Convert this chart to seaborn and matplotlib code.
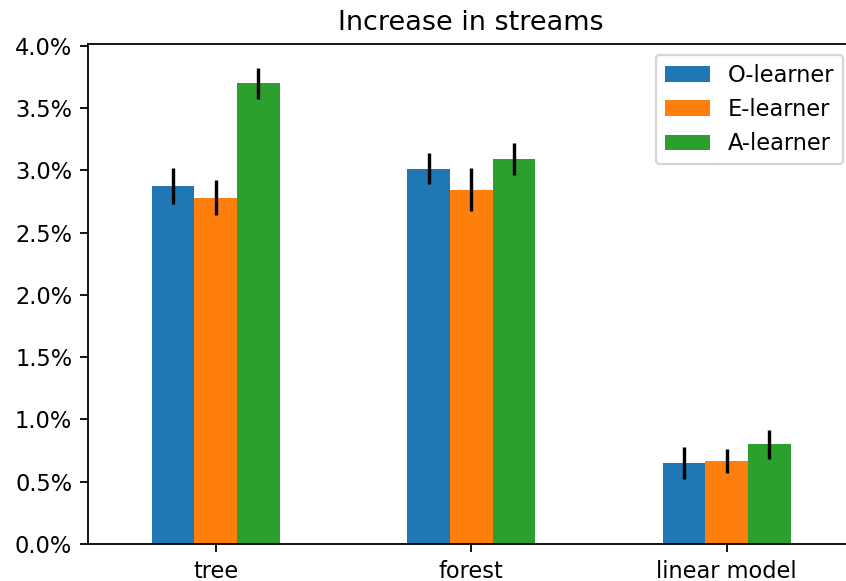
import pandas as pd
import matplotlib.pyplot as plt
import matplotlib.ticker as mticker
import seaborn as sns

# --- data (fractions, shown as percent) ---
models = ["tree", "forest", "linear model"]
learners = ["O-learner", "E-learner", "A-learner"]

o_mean = [0.02875, 0.03014, 0.00647]
e_mean = [0.02780, 0.02845, 0.00666]
a_mean = [0.03700, 0.03090, 0.00800]

o_err = [0.00143, 0.00123, 0.00128]
e_err = [0.00140, 0.00175, 0.00094]
a_err = [0.00124, 0.00131, 0.00116]

COLORS = ["#1f77b4", "#ff7f0e", "#2ca02c"]

means = {"O-learner": o_mean, "E-learner": e_mean, "A-learner": a_mean}
errs = {"O-learner": o_err, "E-learner": e_err, "A-learner": a_err}

rows = []
for lrn in learners:
    for i, m in enumerate(models):
        rows.append({"model": m, "learner": lrn, "value": means[lrn][i], "err": errs[lrn][i]})
df = pd.DataFrame(rows)

DPI = 162
fig = plt.figure(figsize=(846 / DPI, 581 / DPI), dpi=DPI)
# axes runs a little past the right edge, like the cropped original
ax = fig.add_axes([88 / 846, 1 - 544 / 581, 766.5 / 846, (544 - 43.5) / 581])

sns.barplot(
    data=df,
    x="model",
    y="value",
    hue="learner",
    order=models,
    hue_order=learners,
    palette=COLORS,
    width=0.5,
    saturation=1,
    errorbar=None,
    ax=ax,
)

# error bars at the centre of each bar
for lrn, cont in zip(learners, ax.containers):
    xs = [p.get_x() + p.get_width() / 2 for p in cont.patches]
    ys = [p.get_height() for p in cont.patches]
    ax.errorbar(xs, ys, yerr=errs[lrn], fmt="none", ecolor="black", elinewidth=1.5, capsize=0, zorder=5)

ax.yaxis.set_major_formatter(mticker.PercentFormatter(xmax=1.0, decimals=1))
ax.set_ylim(0, 0.04018)
ax.set_xlim(-0.5, 2.5)
ax.set_xlabel("")
ax.set_ylabel("")
ax.set_title("Increase in streams")
ax.tick_params(axis="x", rotation=0)
ax.legend(loc="upper right", title=None)

fig.savefig("out.png", dpi=DPI)
